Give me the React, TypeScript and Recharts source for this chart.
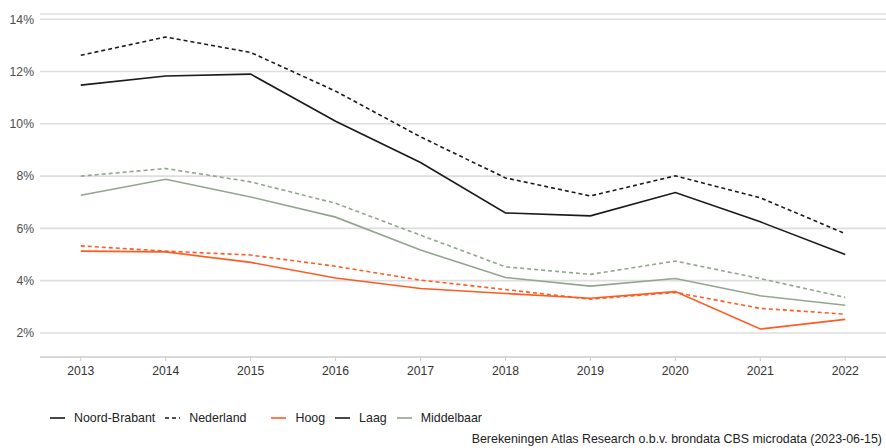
import { LineChart, Line, XAxis, YAxis, CartesianGrid, Legend } from 'recharts';

const years = [2013, 2014, 2015, 2016, 2017, 2018, 2019, 2020, 2021, 2022];

// Laag (black)
const laagNB = [11.48, 11.83, 11.9, 10.1, 8.52, 6.59, 6.48, 7.37, 6.25, 5.0];
const laagNL = [12.62, 13.32, 12.73, 11.25, 9.5, 7.93, 7.24, 8.01, 7.17, 5.8];
// Middelbaar (grey-green)
const middelNB = [7.27, 7.88, 7.2, 6.43, 5.17, 4.12, 3.79, 4.08, 3.42, 3.06];
const middelNL = [8.0, 8.29, 7.78, 6.96, 5.74, 4.53, 4.24, 4.75, 4.08, 3.36];
// Hoog (orange)
const hoogNB = [5.13, 5.1, 4.7, 4.1, 3.7, 3.51, 3.33, 3.58, 2.15, 2.52];
const hoogNL = [5.33, 5.13, 4.98, 4.55, 4.02, 3.66, 3.29, 3.55, 2.94, 2.72];

const yTicks = [2, 4, 6, 8, 10, 12, 14];
const sourceText = 'Berekeningen Atlas Research o.b.v. brondata CBS microdata (2023-06-15)';

const BLACK = '#1a1a1a';
const ORANGE = '#ff5a1f';
const GREEN = '#92a68f';
const FONT = '"Liberation Sans", Arial, sans-serif';

const chartData = years.map((year, i) => ({
  year,
  laagNB: laagNB[i],
  laagNL: laagNL[i],
  middelNB: middelNB[i],
  middelNL: middelNL[i],
  hoogNB: hoogNB[i],
  hoogNL: hoogNL[i],
}));

const legendItems = [
  { label: 'Noord-Brabant', color: BLACK, dashed: false, gapAfter: 10 },
  { label: 'Nederland', color: BLACK, dashed: true, gapAfter: 25 },
  { label: 'Hoog', color: ORANGE, dashed: false, gapAfter: 10 },
  { label: 'Laag', color: BLACK, dashed: false, gapAfter: 10 },
  { label: 'Middelbaar', color: GREEN, dashed: false, gapAfter: 0 },
];

const CustomLegend = () => (
  <div style={{ display: 'flex', alignItems: 'center', paddingLeft: 50, fontFamily: FONT, fontSize: 12.4, color: '#222' }}>
    {legendItems.map((item) => (
      <div key={item.label} style={{ display: 'flex', alignItems: 'center', marginRight: item.gapAfter }}>
        <svg width={15} height={12} style={{ marginRight: 9 }}>
          <line x1={0} y1={6} x2={15} y2={6} stroke={item.color} strokeWidth={1.6}
            strokeDasharray={item.dashed ? '4 3' : undefined} />
        </svg>
        <span>{item.label}</span>
      </div>
    ))}
  </div>
);

export default function App() {
  return (
    <div style={{ position: 'absolute', left: 0, top: 0, width: 886, height: 448, background: '#fff' }}>
      <LineChart width={886} height={448} data={chartData} margin={{ top: 14, right: 0, left: 0, bottom: 47 }}>
        <CartesianGrid vertical={false} stroke="#dedede" strokeWidth={1.6} />
        <XAxis
          dataKey="year"
          type="number"
          domain={[2012.52, 2022.48]}
          ticks={years}
          height={30}
          tick={{ fontSize: 12.2, fill: '#333', fontFamily: FONT }}
          tickSize={4}
          tickMargin={5}
          tickLine={{ stroke: '#cccccc' }}
          axisLine={{ stroke: '#cccccc', strokeWidth: 1.2 }}
          allowDataOverflow
        />
        <YAxis
          type="number"
          domain={[1.08, 14.2]}
          ticks={yTicks}
          width={40}
          tickFormatter={(v: number) => `${v}%`}
          tick={{ fontSize: 12.2, fill: '#4d4d4d', fontFamily: FONT }}
          tickLine={false}
          axisLine={false}
          tickSize={0}
          tickMargin={6}
          allowDataOverflow
        />
        <Legend content={<CustomLegend />} wrapperStyle={{ position: 'absolute', left: 0, top: 411, width: 886 }} />
        <Line dataKey="laagNL" stroke={BLACK} strokeWidth={1.6} strokeDasharray="4 3" dot={false} isAnimationActive={false} />
        <Line dataKey="laagNB" stroke={BLACK} strokeWidth={1.6} dot={false} isAnimationActive={false} />
        <Line dataKey="middelNL" stroke={GREEN} strokeWidth={1.6} strokeDasharray="4 3" dot={false} isAnimationActive={false} />
        <Line dataKey="middelNB" stroke={GREEN} strokeWidth={1.6} dot={false} isAnimationActive={false} />
        <Line dataKey="hoogNL" stroke={ORANGE} strokeWidth={1.6} strokeDasharray="4 3" dot={false} isAnimationActive={false} />
        <Line dataKey="hoogNB" stroke={ORANGE} strokeWidth={1.6} dot={false} isAnimationActive={false} />
      </LineChart>
      <div style={{ position: 'absolute', right: 4, top: 432, fontFamily: FONT, fontSize: 12.4, color: '#222' }}>
        {sourceText}
      </div>
    </div>
  );
}
